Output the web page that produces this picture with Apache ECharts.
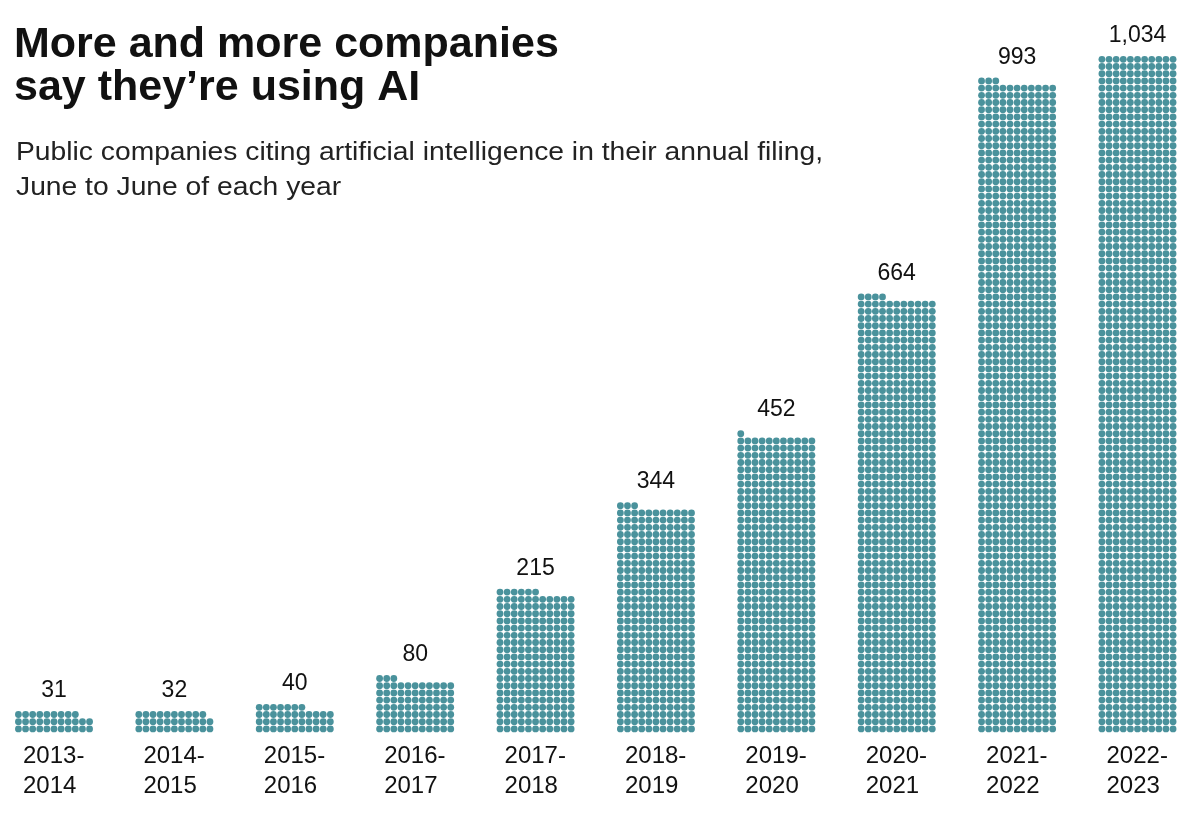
<!DOCTYPE html>
<html><head><meta charset="utf-8">
<script src="https://cdn.jsdelivr.net/npm/echarts@6/dist/echarts.min.js"></script>
<style>html,body{margin:0;padding:0;background:#fff}#c{width:1200px;height:826px}</style>
</head><body><div id="c"></div>
<script>
// ---- data ----
const periods = ['2013-2014','2014-2015','2015-2016','2016-2017','2017-2018','2018-2019','2019-2020','2020-2021','2021-2022','2022-2023'];
const companies = [31, 32, 40, 80, 215, 344, 452, 664, 993, 1034];
const titleText = 'More and more companies\nsay they\u2019re using AI';
const subtitleLines = ['Public companies citing artificial intelligence in their annual filing,', 'June to June of each year'];

// ---- style ----
const DOTS_PER_ROW = 11;
const DOT_COLOR = '#4a929c';
const FONT = '"Liberation Sans", Arial, sans-serif';

function renderItem(params, api) {
  const i = api.value(0), n = api.value(1);
  const cx = api.coord([i, 0])[0];
  const rowH = api.size([0, 1])[1];
  const colW = rowH * 0.988;
  const r = 3.4;
  const children = [];
  const rows = Math.ceil(n / DOTS_PER_ROW);
  for (let k = 0; k < n; k++) {
    const row = Math.floor(k / DOTS_PER_ROW), col = k % DOTS_PER_ROW;
    const x = cx + (col - (DOTS_PER_ROW - 1) / 2) * colW;
    const y = api.coord([i, row + 0.5])[1];
    children.push({type: 'circle', shape: {cx: x, cy: y, r: r}, style: {fill: DOT_COLOR}});
  }
  const topY = api.coord([i, rows])[1];
  children.push({type: 'text', style: {
    text: n.toLocaleString('en-US'), x: cx, y: topY - 20,
    align: 'center', verticalAlign: 'middle',
    font: '23px ' + FONT, fill: '#111'
  }});
  return {type: 'group', children: children};
}

const chart = echarts.init(document.getElementById('c'), null, {renderer: 'canvas'});
chart.setOption({
  animation: false,
  backgroundColor: '#fff',
  title: [
    {text: titleText, left: 14, top: 24, padding: 0,
     textStyle: {fontFamily: FONT, fontSize: 43, fontWeight: 'bold', color: '#111', lineHeight: 43}}
  ],
  graphic: subtitleLines.map((t, k) => ({
    type: 'text', x: 16, y: 153 + k * 35, scaleX: 1.13,
    style: {text: t, font: '25px ' + FONT, fill: '#222', align: 'left', verticalAlign: 'middle'}
  })),
  grid: {left: 54, right: 62.5, top: 12.5, bottom: 93.5, containLabel: false},
  xAxis: {
    type: 'category', data: periods, boundaryGap: false,
    axisLine: {show: false}, axisTick: {show: false}, splitLine: {show: false},
    axisLabel: {
      interval: 0, margin: 9,
      formatter: function (v) { const p = v.split('-'); return '{a|' + p[0] + '-}\n{a|' + p[1] + '}'; },
      rich: {a: {width: 62, align: 'left', fontFamily: FONT, fontSize: 24, lineHeight: 30, color: '#111'}}
    }
  },
  yAxis: {type: 'value', min: 0, max: 100, show: false},
  series: [{
    type: 'custom', renderItem: renderItem, clip: false,
    data: companies.map((v, i) => [i, v]),
    encode: {x: 0, y: 1}
  }]
});
</script></body></html>
